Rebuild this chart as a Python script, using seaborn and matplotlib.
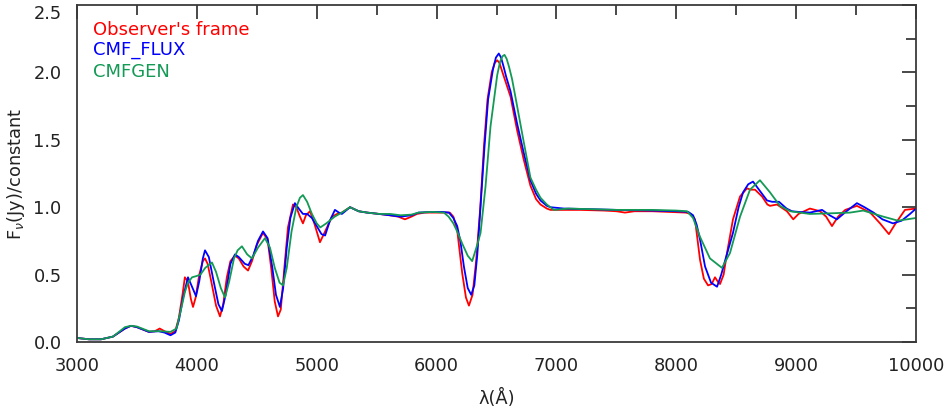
import numpy as np
import pandas as pd
import matplotlib
matplotlib.use('Agg')
import matplotlib.pyplot as plt
from matplotlib.ticker import MultipleLocator
import seaborn as sns

# Observer's frame (red)
wl_obs = [3000, 3100, 3200, 3300, 3400, 3450, 3500, 3600, 3650, 3690, 3730, 3780, 3820,
          3850, 3880, 3900, 3925, 3950, 3968, 3990, 4020, 4050, 4068, 4090, 4120, 4160,
          4193, 4220, 4250, 4280, 4318, 4350, 4390, 4427, 4460, 4500, 4552, 4590, 4620,
          4650, 4677, 4700, 4730, 4760, 4802, 4830, 4860, 4885, 4910, 4944, 4980, 5027,
          5070, 5127, 5170, 5210, 5278, 5350, 5420, 5520, 5611, 5680, 5736, 5790, 5836,
          5900, 5970, 6050, 6110, 6140, 6172, 6214, 6245, 6270, 6300, 6330, 6365, 6395,
          6425, 6460, 6485, 6506, 6525, 6550, 6580, 6617, 6672, 6728, 6783, 6830, 6867,
          6920, 6950, 7061, 7200, 7400, 7500, 7572, 7650, 7800, 7950, 8080, 8120, 8156,
          8198, 8230, 8265, 8295, 8323, 8345, 8365, 8395, 8423, 8473, 8532, 8590, 8620,
          8657, 8715, 8760, 8782, 8840, 8923, 8976, 9020, 9115, 9200, 9250, 9299, 9350,
          9410, 9507, 9618, 9700, 9774, 9830, 9908, 10000]
flux_obs = [0.03, 0.02, 0.02, 0.04, 0.10, 0.12, 0.11, 0.075, 0.08, 0.10, 0.08, 0.06, 0.08,
            0.18, 0.35, 0.48, 0.45, 0.32, 0.26, 0.33, 0.50, 0.60, 0.62, 0.58, 0.45, 0.27,
            0.19, 0.28, 0.48, 0.60, 0.64, 0.62, 0.56, 0.53, 0.60, 0.72, 0.81, 0.76, 0.55,
            0.30, 0.19, 0.24, 0.55, 0.85, 1.02, 1.00, 0.93, 0.88, 0.94, 0.97, 0.88, 0.74,
            0.82, 0.93, 0.95, 0.96, 1.00, 0.97, 0.96, 0.95, 0.94, 0.93, 0.91, 0.93, 0.95,
            0.96, 0.96, 0.96, 0.96, 0.93, 0.83, 0.51, 0.33, 0.27, 0.35, 0.60, 1.00, 1.45,
            1.80, 2.00, 2.07, 2.09, 2.07, 2.00, 1.92, 1.82, 1.57, 1.35, 1.16, 1.06, 1.02,
            0.99, 0.98, 0.98, 0.98, 0.975, 0.97, 0.96, 0.97, 0.97, 0.965, 0.96, 0.95, 0.91,
            0.61, 0.47, 0.42, 0.43, 0.48, 0.45, 0.43, 0.50, 0.66, 0.91, 1.08, 1.14, 1.13,
            1.13, 1.08, 1.02, 1.01, 1.02, 0.97, 0.91, 0.95, 0.99, 0.97, 0.93, 0.86, 0.93,
            0.98, 1.01, 0.96, 0.88, 0.80, 0.88, 0.98, 0.99]

# CMF_FLUX (blue)
wl_cmf = [3000, 3100, 3200, 3300, 3400, 3450, 3500, 3600, 3680, 3730, 3780, 3820, 3850,
          3885, 3926, 3950, 3993, 4020, 4050, 4068, 4100, 4140, 4180, 4209, 4240, 4280,
          4318, 4350, 4400, 4430, 4470, 4510, 4552, 4590, 4630, 4660, 4693, 4720, 4750,
          4780, 4818, 4850, 4885, 4920, 4960, 5000, 5040, 5070, 5110, 5152, 5185, 5210,
          5278, 5350, 5420, 5520, 5611, 5700, 5790, 5850, 5970, 6050, 6103, 6140, 6172,
          6200, 6228, 6260, 6289, 6315, 6340, 6370, 6400, 6430, 6470, 6495, 6519, 6538,
          6560, 6580, 6617, 6672, 6728, 6783, 6830, 6867, 6920, 6950, 7061, 7300, 7500,
          7800, 8000, 8100, 8140, 8170, 8198, 8240, 8290, 8340, 8375, 8406, 8473, 8520,
          8557, 8600, 8640, 8690, 8757, 8800, 8857, 8920, 8965, 9020, 9115, 9216, 9280,
          9340, 9420, 9507, 9570, 9646, 9720, 9808, 9880, 9950, 10000]
flux_cmf = [0.03, 0.02, 0.02, 0.04, 0.10, 0.12, 0.11, 0.075, 0.08, 0.07, 0.05, 0.07, 0.16,
            0.33, 0.48, 0.43, 0.34, 0.45, 0.62, 0.68, 0.63, 0.45, 0.28, 0.23, 0.35, 0.58,
            0.65, 0.63, 0.58, 0.57, 0.64, 0.75, 0.82, 0.77, 0.55, 0.35, 0.26, 0.40, 0.70,
            0.92, 1.03, 0.99, 0.95, 0.95, 0.92, 0.86, 0.80, 0.79, 0.90, 0.98, 0.96, 0.95,
            1.00, 0.97, 0.96, 0.95, 0.94, 0.93, 0.94, 0.96, 0.965, 0.965, 0.96, 0.92, 0.86,
            0.74, 0.56, 0.40, 0.35, 0.42, 0.65, 1.05, 1.45, 1.80, 2.02, 2.11, 2.14, 2.11,
            2.04, 1.97, 1.86, 1.62, 1.40, 1.20, 1.10, 1.05, 1.01, 1.00, 0.99, 0.985, 0.98,
            0.975, 0.97, 0.965, 0.94, 0.87, 0.76, 0.56, 0.44, 0.41, 0.50, 0.60, 0.81, 1.00,
            1.11, 1.17, 1.19, 1.13, 1.05, 1.04, 1.04, 0.99, 0.97, 0.965, 0.96, 0.98, 0.94,
            0.91, 0.97, 1.03, 1.00, 0.96, 0.91, 0.88, 0.90, 0.95, 0.99]

# CMFGEN (green)
wl_gen = [3000, 3100, 3200, 3300, 3400, 3450, 3500, 3600, 3700, 3780, 3830, 3870, 3900,
          3926, 3960, 4000, 4030, 4070, 4126, 4160, 4200, 4235, 4270, 4310, 4340, 4376,
          4420, 4460, 4510, 4568, 4610, 4650, 4690, 4719, 4750, 4790, 4830, 4860, 4885,
          4920, 4960, 5000, 5030, 5080, 5150, 5210, 5278, 5350, 5420, 5520, 5611, 5700,
          5790, 5850, 5970, 6061, 6100, 6140, 6172, 6214, 6260, 6297, 6339, 6367, 6408,
          6450, 6506, 6530, 6550, 6567, 6585, 6605, 6630, 6672, 6728, 6783, 6830, 6867,
          6920, 6978, 7100, 7300, 7500, 7800, 8000, 8090, 8140, 8198, 8281, 8381, 8448,
          8532, 8615, 8698, 8782, 8865, 8950, 9114, 9300, 9450, 9560, 9727, 9850, 10000]
flux_gen = [0.03, 0.02, 0.02, 0.04, 0.11, 0.12, 0.115, 0.08, 0.08, 0.075, 0.10, 0.25, 0.37,
            0.44, 0.48, 0.49, 0.50, 0.55, 0.59, 0.52, 0.40, 0.33, 0.45, 0.62, 0.68, 0.71,
            0.65, 0.62, 0.70, 0.77, 0.70, 0.55, 0.44, 0.42, 0.55, 0.82, 1.00, 1.07, 1.09,
            1.04, 0.95, 0.88, 0.85, 0.88, 0.93, 0.96, 1.00, 0.97, 0.96, 0.95, 0.95, 0.94,
            0.945, 0.96, 0.965, 0.96, 0.93, 0.88, 0.82, 0.73, 0.64, 0.60, 0.72, 0.81, 1.15,
            1.60, 1.98, 2.08, 2.12, 2.13, 2.10, 2.04, 1.95, 1.75, 1.48, 1.22, 1.13, 1.07,
            1.02, 0.98, 0.99, 0.985, 0.98, 0.98, 0.975, 0.97, 0.92, 0.78, 0.62, 0.55, 0.66,
            0.93, 1.13, 1.20, 1.11, 1.01, 0.97, 0.95, 0.955, 0.96, 0.975, 0.93, 0.90, 0.92]

labels = ["Observer's frame", "CMF_FLUX", "CMFGEN"]
colors = {"Observer's frame": '#ff0000', "CMF_FLUX": '#0000ff', "CMFGEN": '#139a55'}

df = pd.concat([
    pd.DataFrame({'wl': wl_obs, 'flux': flux_obs, 'model': labels[0]}),
    pd.DataFrame({'wl': wl_cmf, 'flux': flux_cmf, 'model': labels[1]}),
    pd.DataFrame({'wl': wl_gen, 'flux': flux_gen, 'model': labels[2]}),
], ignore_index=True)

sns.set_style('white')
plt.rcParams['font.family'] = ['DejaVu Sans']

fig = plt.figure(figsize=(9.45, 4.09), dpi=100)
ax = fig.add_axes([77 / 945, 1 - 342 / 409, 839 / 945, 337 / 409])

sns.lineplot(data=df, x='wl', y='flux', hue='model', hue_order=labels,
             palette=colors, linewidth=1.3, legend=False, ax=ax, sort=False)

ax.set_xlim(3000, 10000)
ax.set_ylim(0, 2.5)
ax.xaxis.set_major_locator(MultipleLocator(1000))
ax.xaxis.set_minor_locator(MultipleLocator(500))
ax.yaxis.set_major_locator(MultipleLocator(0.5))
ax.yaxis.set_minor_locator(MultipleLocator(0.25))
ax.yaxis.set_major_formatter(matplotlib.ticker.FormatStrFormatter('%.1f'))

edge = '#3a3a3a'
for s in ax.spines.values():
    s.set_color(edge)
    s.set_linewidth(1.3)
ax.tick_params(which='both', direction='in', top=True, right=True,
               color=edge, width=1.3, labelsize=12.8, labelcolor='#222222', pad=11)
ax.tick_params(which='major', length=10)
ax.tick_params(which='minor', length=7)

ax.set_xlabel('λ(Å)', fontsize=12.8, color='#222222', labelpad=10)
ax.set_ylabel(r'F$_\nu$(Jy)/constant', fontsize=12.8, color='#222222', labelpad=5)

ypos = [0.926, 0.866, 0.801]
for lab, yy in zip(labels, ypos):
    ax.text(0.019, yy, lab, color=colors[lab], fontsize=13,
            transform=ax.transAxes, va='center', ha='left')

# keep the top y label inside the figure, as in the reference
fig.canvas.draw()
for t in ax.get_yticklabels():
    if t.get_text() == '2.5':
        t.set_verticalalignment('top')

fig.savefig('out.png', dpi=100)
